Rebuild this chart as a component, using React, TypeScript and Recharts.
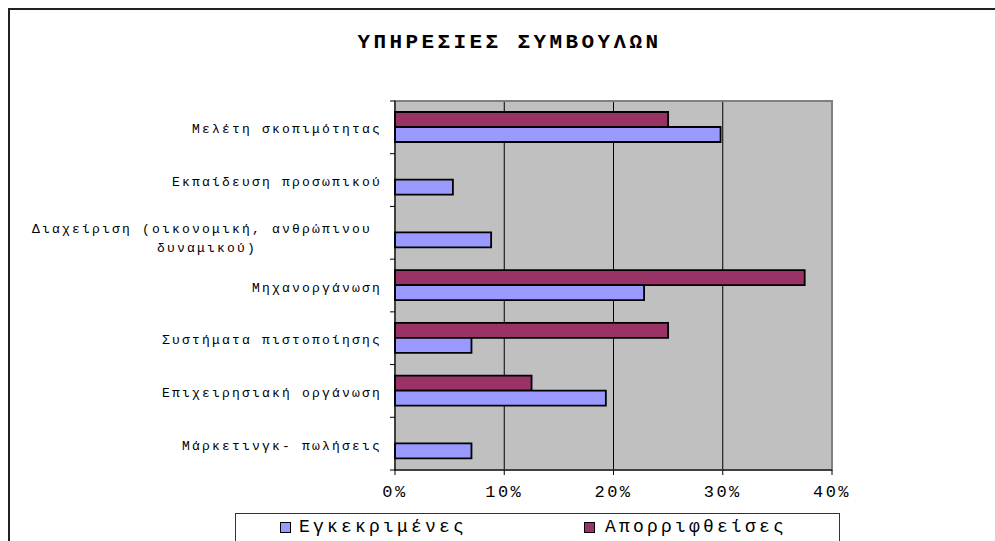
import React from 'react';
import { BarChart, Bar, XAxis, YAxis, CartesianGrid, ReferenceArea } from 'recharts';

// categories top to bottom, line break where the label wraps
const categories = [
  'Μελέτη σκοπιμότητας',
  'Εκπαίδευση προσωπικού',
  'Διαχείριση (οικονομική, ανθρώπινου \nδυναμικού)',
  'Μηχανοργάνωση',
  'Συστήματα πιστοποίησης',
  'Επιχειρησιακή οργάνωση',
  'Μάρκετινγκ- πωλήσεις',
];

// percentages
const approved = [29.8, 5.3, 8.8, 22.8, 7.0, 19.3, 7.0];
const rejected = [25, 0, 0, 37.5, 25, 12.5, 0];

const xTicks = [0, 10, 20, 30, 40];

const seriesNames = { approved: 'Εγκεκριμένες', rejected: 'Απορριφθείσες' };

const BLUE = '#9999FF';
const MAROON = '#993366';
const MONO = '"Liberation Mono", "Courier New", monospace';

const chartData = categories.map((name, i) => ({
  name,
  approved: approved[i],
  rejected: rejected[i],
}));

const TICK_SIZE = 5;
const TICK_MARGIN = 8;
const CHAR_W = 10;

const CategoryTick = (props: any) => {
  const { x, y, payload, height } = props;
  const lines = String(payload.value).split('\n');
  const half = payload.offset != null ? payload.offset : height / (2 * categories.length);
  const axisX = x + TICK_SIZE + TICK_MARGIN;
  const maxLen = Math.max(...lines.map((l) => l.length));
  const cx = x - (maxLen * CHAR_W) / 2;
  const startY = y + 6 - (lines.length - 1) * 6;
  const isLast = payload.index === categories.length - 1;
  return (
    <g>
      <line x1={axisX} x2={axisX - TICK_SIZE} y1={y - half} y2={y - half} stroke="#000" />
      {isLast && <line x1={axisX} x2={axisX - TICK_SIZE} y1={y + half} y2={y + half} stroke="#000" />}
      {lines.map((line, i) => (
        <text
          key={i}
          x={lines.length > 1 ? cx : x}
          y={startY + i * 19}
          textAnchor={lines.length > 1 ? 'middle' : 'end'}
          fill="#000"
          style={{ fontFamily: MONO, fontSize: 13, letterSpacing: 2.2, whiteSpace: 'pre' }}
        >
          {line}
        </text>
      ))}
    </g>
  );
};

export default function App() {
  return (
    <div style={{ position: 'fixed', left: 0, top: 0, width: 995, height: 541, overflow: 'hidden', background: '#fff' }}>
      {/* chart area frame */}
      <div
        style={{
          position: 'absolute',
          left: 8,
          top: 8,
          width: 1000,
          height: 600,
          border: '2px solid #222',
          boxSizing: 'border-box',
        }}
      />
      <div
        style={{
          position: 'absolute',
          left: 0,
          top: 32,
          width: 1019,
          textAlign: 'center',
          fontFamily: MONO,
          fontWeight: 'bold',
          fontSize: 21,
          letterSpacing: 3.4,
          lineHeight: 1,
          color: '#000',
        }}
      >
        ΥΠΗΡΕΣΙΕΣ ΣΥΜΒΟΥΛΩΝ
      </div>
      <div style={{ position: 'absolute', left: 0, top: 0 }}>
        <BarChart
          width={995}
          height={541}
          data={chartData}
          layout="vertical"
          margin={{ top: 101, right: 163, bottom: 41, left: 8 }}
          barGap={0}
          barSize={15}
        >
          <CartesianGrid horizontal={false} stroke="#000" fill="#C0C0C0" fillOpacity={1} />
          <ReferenceArea x1={0} x2={40} fill="none" stroke="#808080" strokeWidth={2} />
          <XAxis
            type="number"
            domain={[0, 40]}
            ticks={xTicks}
            tickFormatter={(v) => `${v}%`}
            height={30}
            axisLine={{ stroke: '#000' }}
            tickLine={{ stroke: '#000' }}
            tickSize={5}
            tickMargin={10}
            tick={{ fill: '#000', fontFamily: MONO, fontSize: 17, style: { letterSpacing: 2.5 } } as any}
          />
          <YAxis
            type="category"
            dataKey="name"
            width={387}
            interval={0}
            axisLine={{ stroke: '#000' }}
            tickLine={false}
            tickSize={TICK_SIZE}
            tickMargin={TICK_MARGIN}
            tick={<CategoryTick />}
          />
          <Bar dataKey="rejected" name={seriesNames.rejected} fill={MAROON} stroke="#000" strokeWidth={1.8} isAnimationActive={false} />
          <Bar dataKey="approved" name={seriesNames.approved} fill={BLUE} stroke="#000" strokeWidth={1.8} isAnimationActive={false} />
        </BarChart>
      </div>
      {/* legend */}
      <div
        style={{
          position: 'absolute',
          left: 235,
          top: 513,
          width: 605,
          height: 60,
          border: '1px solid #333',
          boxSizing: 'border-box',
          fontFamily: MONO,
          fontSize: 18,
          letterSpacing: 3.2,
          color: '#000',
        }}
      >
        <div style={{ position: 'absolute', left: 44, top: 8, width: 9, height: 9, background: BLUE, border: '1px solid #000' }} />
        <div style={{ position: 'absolute', left: 63, top: 2, lineHeight: '22px', whiteSpace: 'nowrap' }}>{seriesNames.approved}</div>
        <div style={{ position: 'absolute', left: 348, top: 8, width: 9, height: 9, background: MAROON, border: '1px solid #000' }} />
        <div style={{ position: 'absolute', left: 369, top: 2, lineHeight: '22px', whiteSpace: 'nowrap' }}>{seriesNames.rejected}</div>
      </div>
    </div>
  );
}
